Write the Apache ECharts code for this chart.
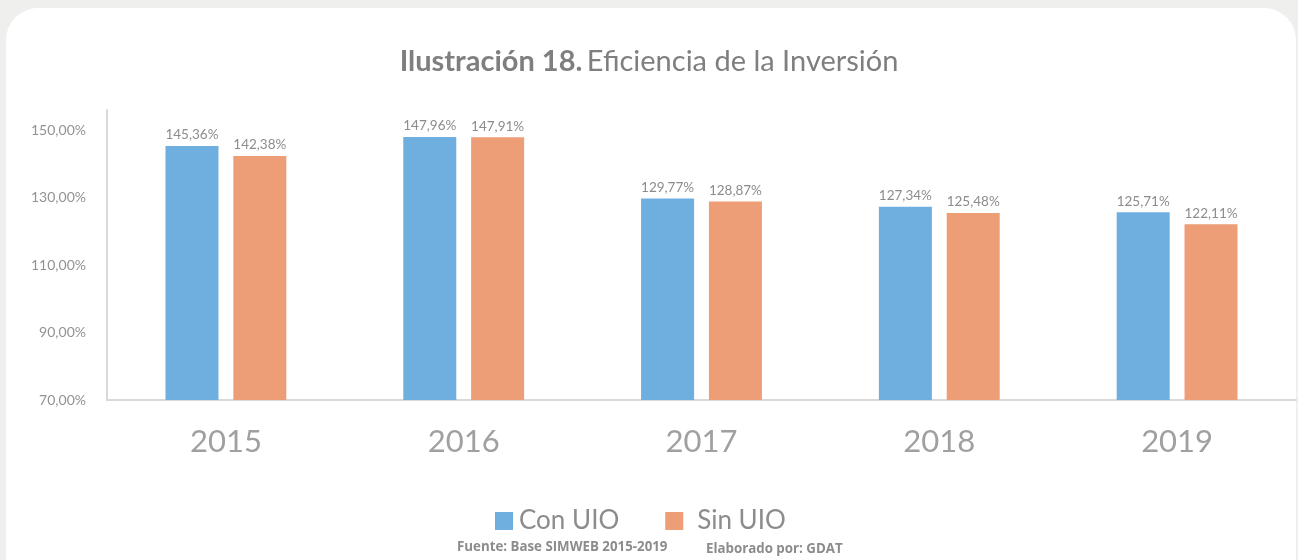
<!DOCTYPE html>
<html>
<head>
<meta charset="utf-8">
<script src="https://cdn.jsdelivr.net/npm/echarts@6/dist/echarts.min.js"></script>
<style>
  html, body { margin: 0; padding: 0; background: #efefed; }
  #chart { width: 1298px; height: 560px; }
</style>
</head>
<body>
<div id="chart"></div>
<script>
const years = ['2015', '2016', '2017', '2018', '2019'];
const conUio = [145.36, 147.96, 129.77, 127.34, 125.71];
const sinUio = [142.38, 147.91, 128.87, 125.48, 122.11];
const seriesNames = ['Con UIO', 'Sin UIO'];

const FONT = 'Lato';
const GREY = '#8c8c8c';

function pct(v, digits) {
  return v.toFixed(digits).replace('.', ',') + '%';
}

const chart = echarts.init(document.getElementById('chart'), null, { renderer: 'canvas' });

const option = {
  backgroundColor: '#efefed',
  textStyle: { fontFamily: FONT },
  graphic: [
    {
      type: 'rect',
      z: -10,
      shape: { x: 6, y: 8, width: 1290, height: 600, r: 32 },
      style: { fill: '#ffffff' }
    },
    {
      type: 'text',
      left: 457,
      top: 541,
      style: { text: 'Fuente: Base SIMWEB 2015-2019', fill: GREY, font: 'bold 13.3px "Open Sans"' }
    },
    {
      type: 'text',
      left: 706,
      top: 543,
      style: { text: 'Elaborado por: GDAT', fill: GREY, font: 'bold 13.3px "Open Sans"' }
    }
  ],
  title: {
    text: '{b|Ilustración 18.} {r|Eficiencia de la Inversión}',
    left: 'center',
    top: 42,
    textStyle: {
      rich: {
        b: { fontFamily: FONT, fontSize: 29, fontWeight: 'bold', color: '#7f7f7f' },
        r: { fontFamily: FONT, fontSize: 29, fontWeight: 'normal', color: '#7f7f7f' }
      }
    }
  },
  legend: {
    data: [
      { name: seriesNames[0] },
      { name: seriesNames[1], textStyle: { padding: [0, 0, 0, 9] } }
    ],
    bottom: 26,
    left: 495,
    padding: 0,
    itemWidth: 18,
    itemHeight: 18,
    itemGap: 46,
    icon: 'rect',
    textStyle: { fontFamily: FONT, fontSize: 26, color: GREY, padding: [0, 0, 0, 1] }
  },
  grid: { left: 107, right: 2, top: 110, bottom: 160 },
  xAxis: {
    type: 'category',
    data: years,
    axisLine: { lineStyle: { color: '#d9d9d9', width: 2 } },
    axisTick: { show: false },
    axisLabel: { fontFamily: FONT, fontSize: 31, color: '#a0a0a0', margin: 26 }
  },
  yAxis: {
    type: 'value',
    min: 70,
    max: 156,
    interval: 20,
    axisLine: { show: true, lineStyle: { color: '#d9d9d9', width: 2 } },
    axisTick: { show: false },
    splitLine: { show: false },
    axisLabel: {
      fontFamily: FONT,
      fontSize: 14,
      color: '#929292',
      margin: 21,
      showMaxLabel: false,
      formatter: v => pct(v, 2)
    }
  },
  series: [
    {
      name: seriesNames[0],
      type: 'bar',
      data: conUio,
      barWidth: 53,
      barGap: '28%',
      itemStyle: { color: '#6fafdf' },
      label: {
        show: true,
        position: 'top',
        distance: 4,
        fontFamily: FONT,
        fontSize: 13.5,
        color: GREY,
        formatter: p => pct(p.value, 2)
      }
    },
    {
      name: seriesNames[1],
      type: 'bar',
      data: sinUio,
      barWidth: 53,
      itemStyle: { color: '#ed9e77' },
      label: {
        show: true,
        position: 'top',
        distance: 4,
        fontFamily: FONT,
        fontSize: 13.5,
        color: GREY,
        formatter: p => pct(p.value, 2)
      }
    }
  ]
};

chart.setOption(option);
window.addEventListener('resize', chart.resize);
</script>
</body>
</html>
